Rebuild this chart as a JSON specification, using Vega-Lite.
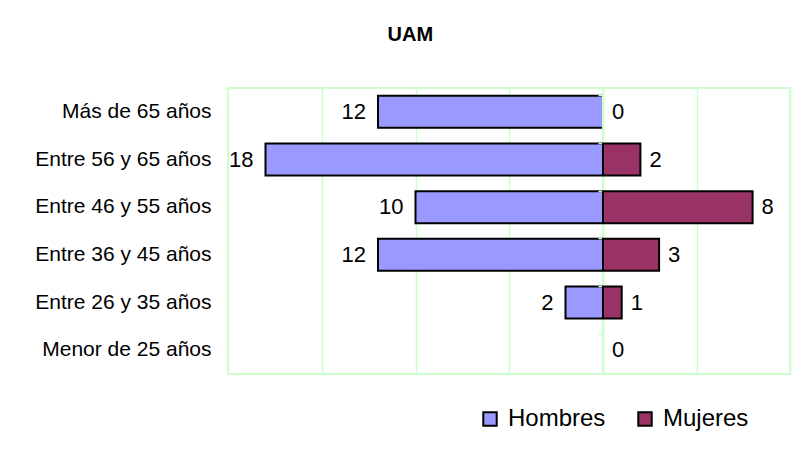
{
  "$schema": "https://vega.github.io/schema/vega-lite/v6.json",
  "background": "white",
  "padding": {"left": 33, "top": 25, "right": 10, "bottom": 5},
  "title": {
    "text": "UAM",
    "font": "Liberation Sans Narrow, Liberation Sans, Arial",
    "fontSize": 20,
    "fontWeight": "bold",
    "color": "black",
    "anchor": "middle",
    "offset": 42,
    "dx": -2
  },
  "datasets": {
    "uam": [
      {"edad": "Más de 65 años", "sexo": "Hombres", "n": 12},
      {"edad": "Más de 65 años", "sexo": "Mujeres", "n": 0},
      {"edad": "Entre 56 y 65 años", "sexo": "Hombres", "n": 18},
      {"edad": "Entre 56 y 65 años", "sexo": "Mujeres", "n": 2},
      {"edad": "Entre 46 y 55 años", "sexo": "Hombres", "n": 10},
      {"edad": "Entre 46 y 55 años", "sexo": "Mujeres", "n": 8},
      {"edad": "Entre 36 y 45 años", "sexo": "Hombres", "n": 12},
      {"edad": "Entre 36 y 45 años", "sexo": "Mujeres", "n": 3},
      {"edad": "Entre 26 y 35 años", "sexo": "Hombres", "n": 2},
      {"edad": "Entre 26 y 35 años", "sexo": "Mujeres", "n": 1},
      {"edad": "Menor de 25 años", "sexo": "Mujeres", "n": 0}
    ]
  },
  "data": {"name": "uam"},
  "bounds": "flush",
  "spacing": 0,
  "hconcat": [
    {
      "width": 375,
      "height": 286,
      "transform": [{"filter": "datum.sexo == 'Hombres'"}],
      "encoding": {
        "y": {
          "field": "edad",
          "type": "nominal",
          "sort": null,
          "scale": {
            "domain": ["Más de 65 años", "Entre 56 y 65 años", "Entre 46 y 55 años", "Entre 36 y 45 años", "Entre 26 y 35 años", "Menor de 25 años"],
            "paddingInner": 0.328,
            "paddingOuter": 0.164
          },
          "axis": {
            "title": null,
            "ticks": false,
            "domain": false,
            "labelFont": "Liberation Sans, Arial",
            "labelFontSize": 21,
            "labelColor": "black",
            "labelPadding": 17
          }
        },
        "x": {
          "field": "n",
          "type": "quantitative",
          "scale": {"domain": [0, 20], "reverse": true, "nice": false},
          "axis": {
            "title": null,
            "values": [0, 5, 10, 15, 20],
            "labels": false,
            "ticks": false,
            "domain": false,
            "grid": true,
            "gridColor": "#ccffcc",
            "gridOpacity": 1,
            "gridWidth": 1.5
          }
        }
      },
      "layer": [
        {
          "transform": [{"filter": "datum.n > 0"}],
          "mark": {"type": "bar", "stroke": "black", "strokeWidth": 2, "size": 32},
          "encoding": {
            "color": {
              "field": "sexo",
              "type": "nominal",
              "scale": {"domain": ["Hombres", "Mujeres"], "range": ["#9999ff", "#993366"]},
              "legend": {
                "title": null,
                "orient": "none",
                "direction": "horizontal",
                "legendX": 250,
                "legendY": 319,
                "symbolType": "square",
                "symbolSize": 180,
                "symbolStrokeColor": "black",
                "symbolStrokeWidth": 2,
                "labelFont": "Liberation Sans, Arial",
                "labelFontSize": 24,
                "labelColor": "black",
                "columnPadding": 27,
                "labelOffset": 6
              }
            }
          }
        },
        {
          "mark": {"type": "text", "align": "right", "baseline": "middle", "dx": -12, "font": "Liberation Sans, Arial", "fontSize": 22, "color": "black"},
          "encoding": {"text": {"field": "n", "type": "quantitative"}}
        }
      ]
    },
    {
      "width": 187,
      "height": 286,
      "transform": [{"filter": "datum.sexo == 'Mujeres'"}],
      "encoding": {
        "y": {
          "field": "edad",
          "type": "nominal",
          "sort": null,
          "scale": {
            "domain": ["Más de 65 años", "Entre 56 y 65 años", "Entre 46 y 55 años", "Entre 36 y 45 años", "Entre 26 y 35 años", "Menor de 25 años"],
            "paddingInner": 0.328,
            "paddingOuter": 0.164
          },
          "axis": {
            "title": null,
            "labels": false,
            "domain": false,
            "ticks": true,
            "tickColor": "#ccffcc",
            "tickSize": 5,
            "tickWidth": 1.5,
            "bandPosition": 0
          }
        },
        "x": {
          "field": "n",
          "type": "quantitative",
          "scale": {"domain": [0, 10], "nice": false},
          "axis": {
            "title": null,
            "values": [0, 5, 10],
            "labels": false,
            "ticks": false,
            "domain": false,
            "grid": true,
            "gridColor": "#ccffcc",
            "gridOpacity": 1,
            "gridWidth": 1.5
          }
        }
      },
      "layer": [
        {
          "transform": [{"filter": "datum.n > 0"}],
          "mark": {"type": "bar", "stroke": "black", "strokeWidth": 2, "size": 32},
          "encoding": {
            "color": {"field": "sexo", "type": "nominal"}
          }
        },
        {
          "mark": {"type": "text", "align": "left", "baseline": "middle", "dx": 9, "font": "Liberation Sans, Arial", "fontSize": 22, "color": "black"},
          "encoding": {"text": {"field": "n", "type": "quantitative"}}
        }
      ]
    }
  ],
  "resolve": {"scale": {"color": "shared", "y": "independent", "x": "independent"}},
  "config": {
    "view": {"stroke": "#ccffcc", "strokeWidth": 2},
    "font": "Liberation Sans, Arial"
  }
}
